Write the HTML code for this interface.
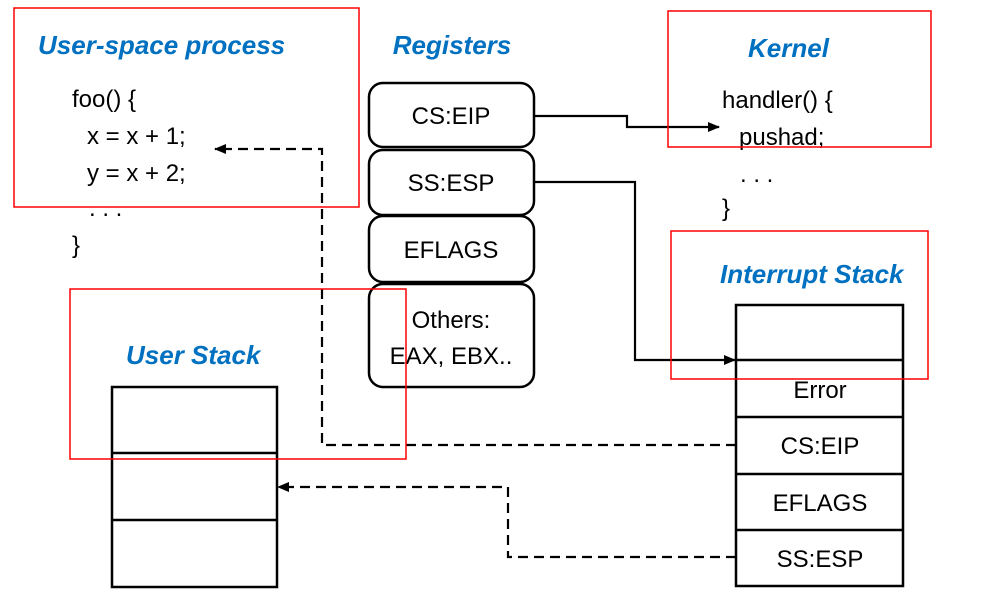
<!DOCTYPE html>
<html><head><meta charset="utf-8"><style>
html,body{margin:0;padding:0;background:#fff;}
svg{display:block;}
text{font-family:"Liberation Sans",sans-serif;}
.t{fill:#0070C0;font-weight:bold;font-style:italic;font-size:26px;}
.c{fill:#000;font-size:24px;}
</style></head><body>
<svg width="991" height="607" viewBox="0 0 991 607" xmlns="http://www.w3.org/2000/svg">
<defs>
<marker id="a" markerWidth="12" markerHeight="12" refX="11" refY="6" orient="auto" markerUnits="userSpaceOnUse">
<path d="M0,1 L12,6 L0,11 z" fill="#000"/></marker>
</defs>
<g fill="#fff" stroke="#000" stroke-width="2.5">
<rect x="369" y="83" width="165" height="64" rx="14"/>
<rect x="369" y="150" width="165" height="65" rx="14"/>
<rect x="369" y="216" width="165" height="66" rx="14"/>
<rect x="369" y="284" width="165" height="103" rx="14"/>
</g>
<g class="c" text-anchor="middle">
<text x="451" y="124">CS:EIP</text>
<text x="451" y="191">SS:ESP</text>
<text x="451" y="258">EFLAGS</text>
<text x="451" y="328">Others:</text>
<text x="451" y="364">EAX, EBX..</text>
</g>
<text class="t" x="452" y="54" text-anchor="middle">Registers</text>
<text class="t" x="38" y="54">User-space process</text>
<g class="c">
<text x="72" y="107">foo() {</text>
<text x="87" y="144">x = x + 1;</text>
<text x="87" y="181">y = x + 2;</text>
<text x="89" y="216">. . .</text>
<text x="72" y="253">}</text>
</g>
<text class="t" x="748" y="57">Kernel</text>
<g class="c">
<text x="722" y="108">handler() {</text>
<text x="739" y="145">pushad;</text>
<text x="740" y="182">. . .</text>
<text x="722" y="216">}</text>
</g>
<text class="t" x="720" y="283">Interrupt Stack</text>
<text class="t" x="126" y="364">User Stack</text>
<g fill="none" stroke="#000" stroke-width="2.5">
<rect x="736" y="305" width="167" height="281"/>
<line x1="736" y1="360" x2="903" y2="360"/>
<line x1="736" y1="417" x2="903" y2="417"/>
<line x1="736" y1="474" x2="903" y2="474"/>
<line x1="736" y1="530" x2="903" y2="530"/>
<rect x="112" y="387" width="165" height="200"/>
<line x1="112" y1="453" x2="277" y2="453"/>
<line x1="112" y1="520" x2="277" y2="520"/>
</g>
<g class="c" text-anchor="middle">
<text x="820" y="398">Error</text>
<text x="820" y="454">CS:EIP</text>
<text x="820" y="511">EFLAGS</text>
<text x="820" y="567">SS:ESP</text>
</g>
<g fill="none" stroke="#000" stroke-width="2.2">
<polyline points="534,116 627,116 627,127 719,127" marker-end="url(#a)"/>
<polyline points="534,182 635,182 635,360 735,360" marker-end="url(#a)"/>
<polyline points="736,445 322,445 322,149 215,149" stroke-dasharray="10,6" marker-end="url(#a)"/>
<polyline points="736,557 508,557 508,487 278,487" stroke-dasharray="10,6" marker-end="url(#a)"/>
</g>
<g fill="none" stroke="#f00" stroke-width="1.5">
<rect x="14" y="8" width="345" height="199"/>
<rect x="70" y="289" width="336" height="170"/>
<rect x="668" y="11" width="263" height="136"/>
<rect x="671" y="231" width="257" height="148"/>
</g>
</svg>
</body></html>
